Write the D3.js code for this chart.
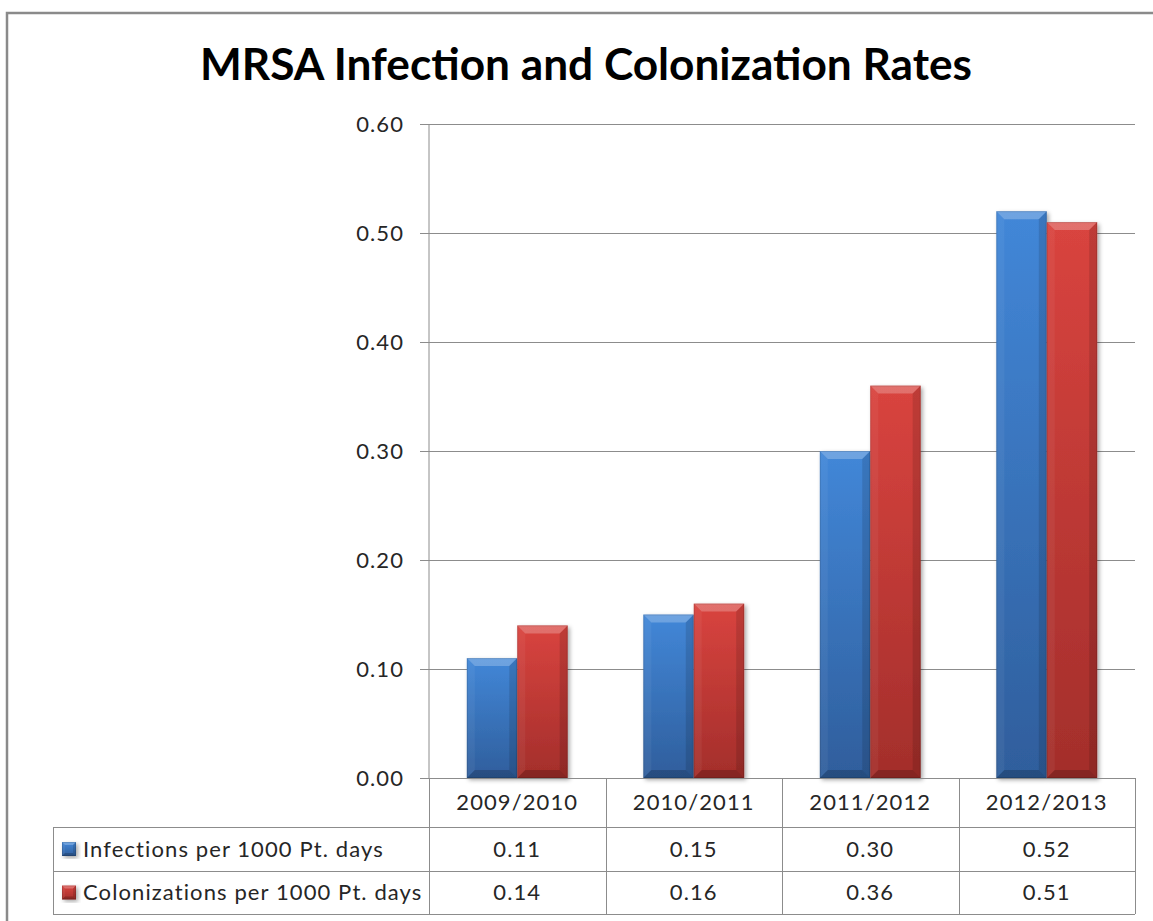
<!DOCTYPE html>
<html>
<head>
<meta charset="utf-8">
<script src="https://cdn.jsdelivr.net/npm/d3@7/dist/d3.min.js"></script>
<style>
  html, body { margin: 0; padding: 0; background: #ffffff; }
  svg { display: block; }
</style>
</head>
<body>
<svg id="chart" width="1153" height="921"></svg>
<script>
// Chart data
const title = "MRSA Infection and Colonization Rates";
const categories = ["2009/2010", "2010/2011", "2011/2012", "2012/2013"];
const seriesNames = ["Infections per 1000 Pt. days", "Colonizations per 1000 Pt. days"];
const infections = [0.11, 0.15, 0.30, 0.52];
const colonizations = [0.14, 0.16, 0.36, 0.51];
const yTicks = [0.00, 0.10, 0.20, 0.30, 0.40, 0.50, 0.60];

const series = [
  { name: seriesNames[0], values: infections, top: "#4287d8", bottom: "#2f5e9c" },
  { name: seriesNames[1], values: colonizations, top: "#d9443f", bottom: "#a32e2b" }
];

const svg = d3.select("#chart");
const font = "Lato, 'Open Sans', sans-serif";
const textColor = "#262626";
const lineColor = "#8c8c8c";
const spacing = "1.1px";

// Layout
const plot = { left: 429, right: 1135, top: 124, bottom: 778 };
const table = { left: 53, rows: [778, 827, 871, 914] };

// Outer frame
svg.append("path")
  .attr("d", "M7,921 V13 H1153")
  .attr("fill", "none")
  .attr("stroke", "#8a8a8a")
  .attr("stroke-width", 2.5);

// Scales
const x = d3.scaleBand().domain(categories).range([plot.left, plot.right]).paddingInner(0).paddingOuter(0);
const barW = x.bandwidth() / 3.5;  // gap width 150%
const y = d3.scaleLinear().domain([0, 0.6]).range([plot.bottom, plot.top]);

// Defs: gradients and drop shadow
const defs = svg.append("defs");
series.forEach((s, i) => {
  const g = defs.append("linearGradient").attr("id", "face" + i)
    .attr("x1", 0).attr("y1", 0).attr("x2", 0).attr("y2", 1);
  g.append("stop").attr("offset", "0%").attr("stop-color", s.top);
  g.append("stop").attr("offset", "100%").attr("stop-color", s.bottom);
});
const shadow = defs.append("filter").attr("id", "shadow")
  .attr("x", "-20%").attr("y", "-10%").attr("width", "150%").attr("height", "130%");
shadow.append("feDropShadow").attr("dx", 2).attr("dy", 2).attr("stdDeviation", 2.2)
  .attr("flood-color", "#000").attr("flood-opacity", 0.35);

// Title
svg.append("text")
  .attr("x", 586).attr("y", 80)
  .attr("text-anchor", "middle")
  .attr("font-family", font).attr("font-weight", 700).attr("font-size", 43)
  .attr("textLength", 772).attr("lengthAdjust", "spacingAndGlyphs")
  .attr("fill", "#000")
  .text(title);

// Gridlines and y axis
const yAxis = d3.axisLeft(y).tickValues(yTicks).tickFormat(d3.format(".2f"))
  .tickSize(9).tickPadding(16);
const yg = svg.append("g").attr("transform", `translate(${plot.left},0)`).call(yAxis);
yg.select(".domain").attr("stroke", lineColor).attr("d", `M0,${plot.top}V${plot.bottom}`);
yg.selectAll(".tick line").attr("stroke", lineColor);
yg.selectAll(".tick text")
  .attr("font-family", font).attr("font-size", 22).attr("fill", textColor)
  .attr("letter-spacing", spacing);

svg.append("g").selectAll("line").data(yTicks).join("line")
  .attr("x1", plot.left).attr("x2", plot.right)
  .attr("y1", d => Math.round(y(d)) + 0.5).attr("y2", d => Math.round(y(d)) + 0.5)
  .attr("stroke", lineColor).attr("stroke-width", 1);
yg.selectAll(".tick").attr("transform", d => `translate(0,${Math.round(y(d)) + 0.5})`);

// Beveled bar drawing
function bevelBar(g, bx, by, w, h, fillId, bev) {
  const b = Math.min(bev, h / 2, w / 2);
  const grp = g.append("g");
  grp.append("rect").attr("x", bx).attr("y", by).attr("width", w).attr("height", h)
    .attr("fill", `url(#${fillId})`).attr("filter", "url(#shadow)");
  // top bevel (light)
  grp.append("polygon")
    .attr("points", [[bx, by], [bx + w, by], [bx + w - b, by + b], [bx + b, by + b]].join(" "))
    .attr("fill", "#ffffff").attr("opacity", 0.24);
  // left bevel (slight light)
  grp.append("polygon")
    .attr("points", [[bx, by], [bx + b, by + b], [bx + b, by + h - b], [bx, by + h]].join(" "))
    .attr("fill", "#ffffff").attr("opacity", 0.05);
  // right bevel (dark)
  grp.append("polygon")
    .attr("points", [[bx + w, by], [bx + w, by + h], [bx + w - b, by + h - b], [bx + w - b, by + b]].join(" "))
    .attr("fill", "#000000").attr("opacity", 0.12);
  // bottom bevel (dark)
  grp.append("polygon")
    .attr("points", [[bx, by + h], [bx + w, by + h], [bx + w - b, by + h - b], [bx + b, by + h - b]].join(" "))
    .attr("fill", "#000000").attr("opacity", 0.18);
  // thin outline
  grp.append("rect").attr("x", bx + 0.5).attr("y", by + 0.5).attr("width", w - 1).attr("height", h - 1)
    .attr("fill", "none").attr("stroke", "#000").attr("stroke-opacity", 0.12);
}

// Bars
const barsG = svg.append("g");
categories.forEach((c, ci) => {
  const start = x(c) + barW * 0.75;
  series.forEach((s, si) => {
    const v = s.values[ci];
    const bx = start + si * barW;
    const by = y(v);
    bevelBar(barsG, bx, by, barW, y(0) - by, "face" + si, 8);
  });
});

// Data table
const tg = svg.append("g");
const rowsY = table.rows;
// horizontal lines
tg.append("line").attr("x1", plot.left).attr("x2", plot.right)
  .attr("y1", rowsY[0] + 0.5).attr("y2", rowsY[0] + 0.5).attr("stroke", lineColor);
rowsY.slice(1).forEach(ry => {
  tg.append("line").attr("x1", table.left).attr("x2", plot.right)
    .attr("y1", ry + 0.5).attr("y2", ry + 0.5).attr("stroke", lineColor);
});
// vertical lines
tg.append("line").attr("x1", table.left + 0.5).attr("x2", table.left + 0.5)
  .attr("y1", rowsY[1]).attr("y2", rowsY[3]).attr("stroke", lineColor);
const colEdges = categories.map(c => x(c)).concat([plot.right]);
colEdges.forEach(cx => {
  tg.append("line").attr("x1", Math.round(cx) + 0.5).attr("x2", Math.round(cx) + 0.5)
    .attr("y1", rowsY[0]).attr("y2", rowsY[3]).attr("stroke", lineColor);
});
// category header
tg.selectAll("text.cat").data(categories).join("text").attr("class", "cat")
  .attr("x", d => x(d) + x.bandwidth() / 2)
  .attr("y", (rowsY[0] + rowsY[1]) / 2)
  .attr("dy", "0.36em")
  .attr("text-anchor", "middle")
  .attr("font-family", font).attr("font-size", 22).attr("fill", textColor)
  .attr("letter-spacing", spacing)
  .text(d => d);
// series rows
series.forEach((s, si) => {
  const cy = (rowsY[si + 1] + rowsY[si + 2]) / 2;
  // legend key
  bevelBar(tg, 62, cy - 7, 14, 14, "face" + si, 3);
  tg.append("text")
    .attr("x", 83).attr("y", cy).attr("dy", "0.36em")
    .attr("font-family", font).attr("font-size", 22).attr("fill", textColor)
    .attr("letter-spacing", spacing)
    .text(s.name);
  tg.selectAll("text.v" + si).data(s.values).join("text").attr("class", "v" + si)
    .attr("x", (d, i) => x(categories[i]) + x.bandwidth() / 2)
    .attr("y", cy).attr("dy", "0.36em")
    .attr("text-anchor", "middle")
    .attr("font-family", font).attr("font-size", 22).attr("fill", textColor)
    .attr("letter-spacing", spacing)
    .text(d => d3.format(".2f")(d));
});
</script>
</body>
</html>
